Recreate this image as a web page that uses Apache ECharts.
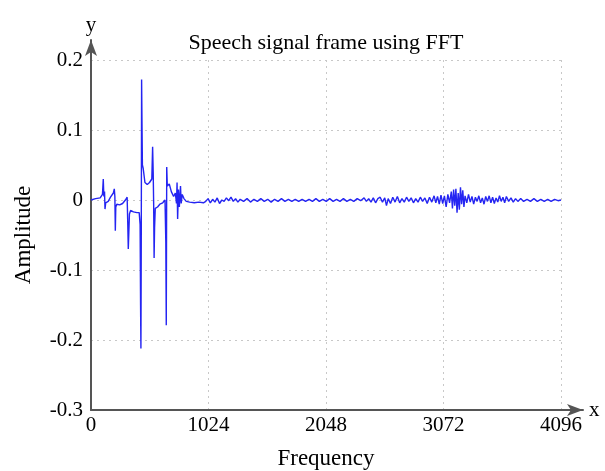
<!DOCTYPE html>
<html>
<head>
<meta charset="utf-8">
<script src="https://cdn.jsdelivr.net/npm/echarts@6/dist/echarts.min.js"></script>
<style>html,body{margin:0;padding:0;background:#fff}#c{width:605px;height:471px}</style>
</head>
<body>
<div id="c"></div>
<script>
var titleText = 'Speech signal frame using FFT';
var xTicks = [0, 1024, 2048, 3072, 4096];
var yTicks = [-0.3, -0.2, -0.1, 0, 0.1, 0.2];
var frequency = [0,40,80,100,107,112,118,122,128,150,170,195,203,208,212,216,225,250,275,300,315,320,325,330,335,345,370,400,420,428,432,435,438,441,444,448,455,470,490,510,530,537,542,546,550,554,560,580,600,625,645,652,656,660,665,682,700,720,735,745,750,755,762,770,780,786,795,810,830,860,900,940,980,
1000,1020,1040,1060,1080,1100,1120,1140,1160,1180,1200,1220,1240,1260,1280,1300,1330,1360,1390,1420,1450,1480,1510,1540,1570,1600,1630,1660,1690,1720,1750,1780,1810,1840,1870,1900,1930,1960,1990,2020,2050,2080,2110,2140,2170,2200,2230,2260,2290,2320,2350,2380,2400,2420,2440,2460,2480,2500,2520,2540,2560,2575,2590,2610,2630,2650,2670,2690,2710,2730,2750,2770,2790,2810,2830,2850,2870,2890,2910,2930,2950,2970,2990,3005,3020,3035,3050,3065,3080,3095,3110,3125,3140,3150,3160,3170,3180,3190,3200,3210,3220,3230,3240,3250,3260,3275,3290,3305,3320,3335,3350,3365,3380,3395,3410,3425,3440,3455,3470,3485,3500,3515,3530,3545,3560,3575,3590,3605,3620,3640,3660,3680,3700,3720,3745,3770,3800,3830,3860,3890,3920,3950,3980,4010,4040,4070,4096];
var amplitude = [0,0.002,0.003,0.008,0.030,0.005,0.012,-0.013,-0.004,-0.002,0.004,0.010,0.016,0.005,-0.044,-0.010,-0.006,-0.007,-0.005,0.000,0.004,-0.030,-0.070,-0.045,-0.020,-0.015,-0.017,-0.018,-0.018,-0.035,-0.150,-0.212,-0.060,0.172,0.117,0.050,0.045,0.025,0.022,0.025,0.030,0.076,0.040,-0.005,-0.083,-0.040,-0.012,-0.010,-0.006,-0.004,0.000,-0.060,-0.179,0.047,0.020,0.023,0.012,0.005,0.010,-0.005,0.025,-0.027,0.015,-0.010,0.020,-0.005,0.008,0.002,-0.002,-0.003,-0.004,-0.003,-0.004,
-0.002,0.002,-0.004,0.001,-0.003,0.003,-0.005,0.000,-0.002,0.003,-0.001,0.004,-0.002,0.002,-0.003,0.001,-0.002,0.002,-0.003,0.001,-0.002,0.002,-0.002,0.001,-0.003,0.001,-0.002,0.002,-0.002,0.001,-0.002,0.001,-0.002,0.001,-0.002,0.001,-0.002,0.002,-0.002,0.001,-0.002,0.002,-0.002,0.001,-0.002,0.002,-0.002,0.001,-0.002,0.002,-0.001,0.003,-0.002,0.002,-0.003,0.003,-0.004,0.002,0.004,-0.003,0.003,-0.008,0.002,-0.005,0.004,-0.003,0.005,-0.004,0.002,-0.003,0.004,-0.002,0.003,-0.004,0.002,-0.003,0.004,-0.002,0.003,-0.005,0.004,-0.003,0.006,-0.004,0.005,-0.006,0.007,-0.005,0.006,-0.010,0.008,-0.004,0.012,-0.012,0.015,-0.008,0.016,-0.018,0.010,-0.014,0.018,-0.006,0.014,-0.010,0.006,-0.004,0.008,-0.003,0.005,-0.006,0.004,-0.002,0.006,-0.004,0.003,-0.006,0.005,-0.002,0.006,-0.004,0.004,-0.005,0.003,-0.003,0.006,-0.002,0.004,-0.004,0.005,-0.002,0.003,-0.003,0.002,-0.002,0.002,-0.002,0.001,-0.002,0.002,-0.002,0.001,-0.002,0.001,-0.002,0.001,-0.001,0.000];

var serif = "'Liberation Serif','DejaVu Serif',serif";
var pts = frequency.map(function (f, i) { return [f, amplitude[i]]; });
var chart = echarts.init(document.getElementById('c'));
chart.setOption({
  animation: false,
  title: { text: titleText, left: 321, top: 27, textAlign: 'center',
    textStyle: { fontFamily: serif, fontSize: 22, fontWeight: 'normal', color: '#000' } },
  grid: [
    { left: 91, right: 44, top: 60, bottom: 61, containLabel: false, outerBoundsMode: 'none' },
    { left: 91, right: 22, top: 40, bottom: 61, containLabel: false, outerBoundsMode: 'none' }
  ],
  xAxis: [{
    type: 'value', gridIndex: 0, min: xTicks[0], max: xTicks[xTicks.length - 1], interval: 1024,
    name: 'Frequency', nameLocation: 'middle', nameGap: 37,
    nameTextStyle: { fontFamily: serif, fontSize: 23, color: '#000' },
    axisLine: { show: false }, axisTick: { show: false },
    axisLabel: { fontFamily: serif, fontSize: 21, color: '#000', margin: 5,
      formatter: function (v) { return String(v); } },
    splitLine: { show: true, lineStyle: { type: [2, 4], color: '#c8c8c8', width: 1 } }
  }, {
    type: 'value', gridIndex: 1, min: 0, max: 1,
    name: 'x', nameLocation: 'end', nameGap: 6,
    nameTextStyle: { fontFamily: serif, fontSize: 21, color: '#000', verticalAlign: 'middle' },
    axisLine: { show: true, symbol: ['none', 'arrow'], symbolSize: [9, 16], lineStyle: { color: '#555', width: 2 } },
    axisTick: { show: false }, axisLabel: { show: false }, splitLine: { show: false }
  }],
  yAxis: [{
    type: 'value', gridIndex: 0, min: yTicks[0], max: yTicks[yTicks.length - 1], interval: 0.1,
    name: 'Amplitude', nameLocation: 'middle', nameGap: 56,
    nameTextStyle: { fontFamily: serif, fontSize: 23, color: '#000' },
    axisLine: { show: false }, axisTick: { show: false },
    axisLabel: { fontFamily: serif, fontSize: 21, color: '#000', margin: 8,
      formatter: function (v) { return String(Math.round(v * 10) / 10); } },
    splitLine: { show: true, lineStyle: { type: [2, 4], color: '#c8c8c8', width: 1 } }
  }, {
    type: 'value', gridIndex: 1, min: 0, max: 1,
    name: 'y', nameLocation: 'end', nameGap: 4,
    nameTextStyle: { fontFamily: serif, fontSize: 21, color: '#000' },
    axisLine: { show: true, symbol: ['none', 'arrow'], symbolSize: [9, 16], lineStyle: { color: '#555', width: 2 } },
    axisTick: { show: false }, axisLabel: { show: false }, splitLine: { show: false }
  }],
  series: [{
    type: 'line', xAxisIndex: 0, yAxisIndex: 0, data: pts,
    showSymbol: false, symbol: 'none',
    lineStyle: { color: '#2424f2', width: 1.4 }
  }]
});
</script>
</body>
</html>
